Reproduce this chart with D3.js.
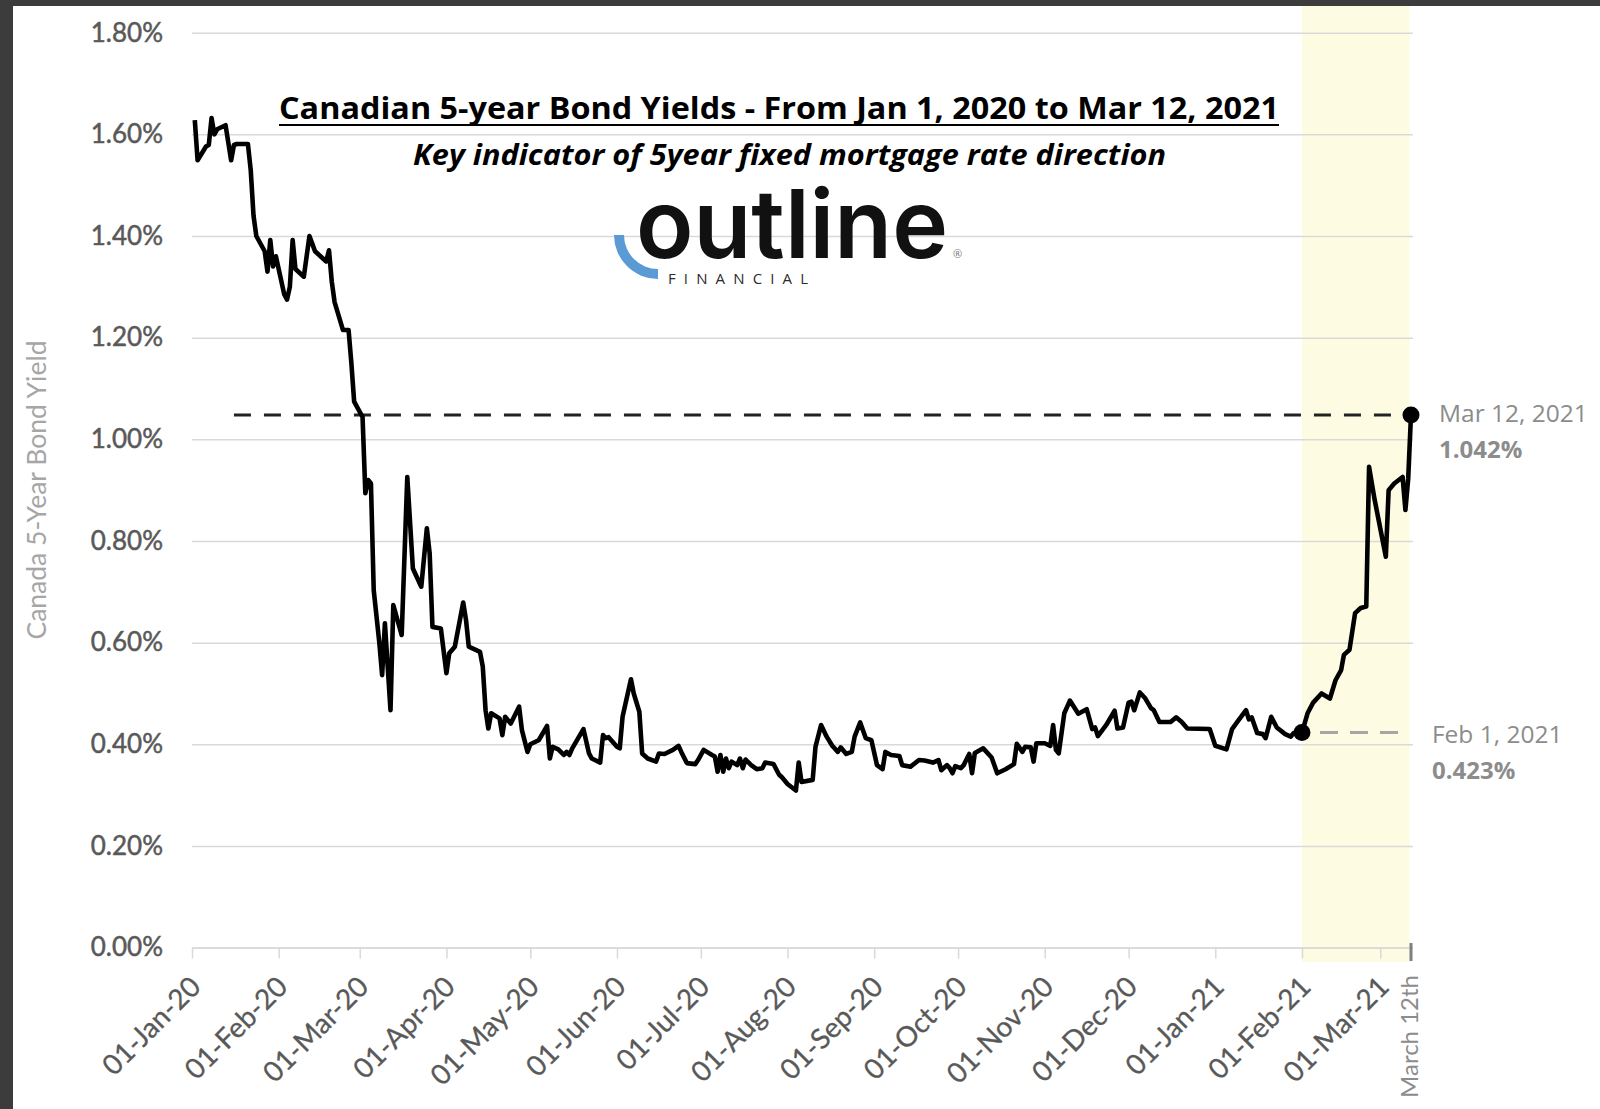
<!DOCTYPE html>
<html><head><meta charset="utf-8">
<script src="https://cdn.jsdelivr.net/npm/d3@7"></script>
<style>html,body{margin:0;padding:0;background:#fff;} svg{display:block}</style>
</head><body>
<svg id="chart" width="1600" height="1109"></svg>
<script>
// ---------------- DATA ----------------
const dates = [
"2020-01-02","2020-01-03","2020-01-06","2020-01-07","2020-01-08","2020-01-09","2020-01-10","2020-01-13","2020-01-15","2020-01-16","2020-01-17","2020-01-21","2020-01-22","2020-01-23","2020-01-24","2020-01-27","2020-01-28","2020-01-29","2020-01-30","2020-01-31",
"2020-02-03","2020-02-04","2020-02-05","2020-02-06","2020-02-07","2020-02-10","2020-02-12","2020-02-13","2020-02-14","2020-02-18","2020-02-19","2020-02-20","2020-02-21","2020-02-24","2020-02-26","2020-02-27","2020-02-28",
"2020-03-01","2020-03-02","2020-03-03","2020-03-04","2020-03-05","2020-03-06","2020-03-08","2020-03-09","2020-03-10","2020-03-12","2020-03-13","2020-03-16","2020-03-18","2020-03-20","2020-03-23","2020-03-25","2020-03-26","2020-03-27","2020-03-30",
"2020-04-01","2020-04-02","2020-04-04","2020-04-07","2020-04-08","2020-04-09","2020-04-13","2020-04-14","2020-04-15","2020-04-16","2020-04-17","2020-04-20","2020-04-21","2020-04-22","2020-04-24","2020-04-27","2020-04-28","2020-04-30",
"2020-05-01","2020-05-04","2020-05-07","2020-05-08","2020-05-09","2020-05-11","2020-05-13","2020-05-14","2020-05-15","2020-05-16","2020-05-20","2020-05-22","2020-05-23","2020-05-26","2020-05-27","2020-05-28","2020-05-29",
"2020-06-01","2020-06-02","2020-06-03","2020-06-06","2020-06-07","2020-06-09","2020-06-10","2020-06-12","2020-06-15","2020-06-16","2020-06-18","2020-06-21","2020-06-23","2020-06-24","2020-06-26","2020-06-29","2020-06-30",
"2020-07-02","2020-07-05","2020-07-06","2020-07-07","2020-07-08","2020-07-09","2020-07-10","2020-07-11","2020-07-12","2020-07-14","2020-07-15","2020-07-16","2020-07-17","2020-07-19","2020-07-21","2020-07-23","2020-07-24","2020-07-27","2020-07-29","2020-07-30",
"2020-08-01","2020-08-04","2020-08-05","2020-08-06","2020-08-10","2020-08-11","2020-08-13","2020-08-15","2020-08-17","2020-08-19","2020-08-20","2020-08-22","2020-08-24","2020-08-25","2020-08-27","2020-08-29","2020-08-31",
"2020-09-02","2020-09-04","2020-09-05","2020-09-07","2020-09-10","2020-09-11","2020-09-14","2020-09-17","2020-09-19","2020-09-22","2020-09-24","2020-09-25","2020-09-27","2020-09-28","2020-09-29","2020-09-30",
"2020-10-02","2020-10-03","2020-10-05","2020-10-06","2020-10-07","2020-10-10","2020-10-13","2020-10-15","2020-10-18","2020-10-21","2020-10-22","2020-10-24","2020-10-25","2020-10-27","2020-10-28","2020-10-29",
"2020-11-01","2020-11-03","2020-11-04","2020-11-05","2020-11-06","2020-11-08","2020-11-10","2020-11-13","2020-11-15","2020-11-16","2020-11-18","2020-11-19","2020-11-20","2020-11-23","2020-11-26","2020-11-27","2020-11-29",
"2020-12-01","2020-12-02","2020-12-03","2020-12-05","2020-12-07","2020-12-09","2020-12-10","2020-12-12","2020-12-16","2020-12-18","2020-12-20","2020-12-22","2020-12-30",
"2021-01-01","2021-01-05","2021-01-07","2021-01-09","2021-01-12","2021-01-13","2021-01-14","2021-01-16","2021-01-18","2021-01-19","2021-01-21","2021-01-23","2021-01-26","2021-01-28","2021-01-29",
"2021-02-01","2021-02-03","2021-02-05","2021-02-08","2021-02-11","2021-02-13","2021-02-15","2021-02-16","2021-02-18","2021-02-20","2021-02-22","2021-02-24","2021-02-25","2021-02-27",
"2021-03-03","2021-03-04","2021-03-06","2021-03-09","2021-03-10","2021-03-11","2021-03-12"
];
const yields = [
1.628,1.549,1.576,1.579,1.632,1.600,1.610,1.618,1.549,1.579,1.581,1.581,1.53,1.44,1.40,1.37,1.33,1.392,1.34,1.36,
1.285,1.275,1.30,1.392,1.335,1.32,1.40,1.385,1.37,1.35,1.372,1.31,1.27,1.215,1.215,1.15,1.074,
1.054,1.044,0.894,0.92,0.913,0.703,0.60,0.536,0.638,0.467,0.674,0.615,0.926,0.746,0.71,0.825,0.776,0.631,0.628,
0.54,0.579,0.592,0.679,0.645,0.592,0.582,0.553,0.467,0.431,0.461,0.451,0.418,0.454,0.441,0.474,0.428,0.385,
0.40,0.408,0.436,0.372,0.395,0.39,0.379,0.385,0.379,0.392,0.43,0.382,0.372,0.364,0.418,0.412,0.414,
0.395,0.392,0.454,0.528,0.50,0.464,0.382,0.372,0.366,0.382,0.381,0.389,0.397,0.385,0.363,0.361,0.369,
0.389,0.379,0.376,0.346,0.379,0.346,0.372,0.353,0.366,0.359,0.372,0.353,0.37,0.359,0.351,0.353,0.364,0.361,0.34,0.335,
0.322,0.309,0.364,0.326,0.33,0.395,0.438,0.415,0.397,0.385,0.394,0.381,0.385,0.415,0.443,0.412,0.408,
0.359,0.351,0.385,0.379,0.377,0.359,0.356,0.369,0.368,0.364,0.369,0.349,0.359,0.353,0.343,0.357,
0.353,0.359,0.381,0.343,0.383,0.392,0.374,0.343,0.351,0.361,0.401,0.385,0.395,0.394,0.366,0.402,
0.402,0.397,0.438,0.389,0.382,0.461,0.486,0.46,0.466,0.469,0.43,0.433,0.416,0.438,0.466,0.431,0.433,
0.482,0.484,0.467,0.502,0.49,0.471,0.467,0.444,0.444,0.453,0.444,0.431,0.43,
0.397,0.39,0.43,0.445,0.467,0.449,0.453,0.422,0.42,0.412,0.454,0.433,0.42,0.415,0.422,
0.423,0.461,0.482,0.50,0.49,0.526,0.546,0.576,0.586,0.658,0.668,0.671,0.946,0.881,
0.769,0.90,0.913,0.926,0.861,0.923,1.048
];
const yTicks = [0,0.2,0.4,0.6,0.8,1.0,1.2,1.4,1.6,1.8];
const monthTicks = ["2020-01-01","2020-02-01","2020-03-01","2020-04-01","2020-05-01","2020-06-01","2020-07-01","2020-08-01","2020-09-01","2020-10-01","2020-11-01","2020-12-01","2021-01-01","2021-02-01","2021-03-01"];
const monthLabels = ["01-Jan-20","01-Feb-20","01-Mar-20","01-Apr-20","01-May-20","01-Jun-20","01-Jul-20","01-Aug-20","01-Sep-20","01-Oct-20","01-Nov-20","01-Dec-20","01-Jan-21","01-Feb-21","01-Mar-21"];
const startDate = "2020-01-01", endDate = "2021-03-12";
const endTickLabel = "March 12th";
const highlightStart = "2021-02-01";
const refLineStart = "2020-01-16";
const annotations = [
  {date:"2021-03-12", name:"Mar 12, 2021", label:"1.042%"},
  {date:"2021-02-01", name:"Feb 1, 2021", label:"0.423%"}
];
const titleText = "Canadian 5-year Bond Yields - From Jan 1, 2020 to Mar 12, 2021";
const subtitleText = "Key indicator of 5year fixed mortgage rate direction";
const yAxisTitle = "Canada 5-Year Bond Yield";

// ---------------- CHART ----------------
const W = 1600, H = 1109;
const svg = d3.select("#chart");
const parse = d3.utcParse("%Y-%m-%d");
const series = dates.map((d,i)=>({date:parse(d), v:yields[i]}));
const x = d3.scaleUtc().domain([parse(startDate), parse(endDate)]).range([192, 1411]);
const y = d3.scaleLinear().domain([0, 1.8]).range([947.6, 32.7]);
const gridRight = 1413;

svg.append("rect").attr("width", W).attr("height", H).attr("fill", "#fff");
svg.append("rect").attr("width", W).attr("height", 6).attr("fill", "#3c3c3c");
svg.append("rect").attr("width", 13).attr("height", H).attr("fill", "#3c3c3c");

// highlight band
const hx0 = x(parse(highlightStart)), hx1 = x(parse(endDate)) - 1.5;
svg.append("rect").attr("x", hx0).attr("y", 6).attr("width", hx1 - hx0).attr("height", 956).attr("fill", "#fdfce3");

// gridlines
const grid = svg.append("g").attr("transform", "translate(192,0)")
  .call(d3.axisLeft(y).tickValues(yTicks).tickSize(-(gridRight - 192)).tickFormat(""));
grid.select(".domain").remove();
grid.selectAll("line").attr("stroke", "#d9d9d9").attr("stroke-width", 1.5);

// y labels
const yAx = svg.append("g").attr("transform", "translate(192,0)")
  .call(d3.axisLeft(y).tickValues(yTicks).tickSize(0).tickPadding(29).tickFormat(d => d.toFixed(2) + "%"));
yAx.select(".domain").remove();
yAx.selectAll("text").attr("font-family", "Lato, sans-serif").attr("font-size", 26).attr("fill", "#595959")
  .attr("stroke", "#595959").attr("stroke-width", 0.5);

// y title
svg.append("text").attr("transform", "translate(46,490) rotate(-90)").attr("text-anchor", "middle")
  .attr("font-family", "Lato, sans-serif").attr("font-size", 26.5).attr("fill", "#a6a6a6").text(yAxisTitle);

// x axis
const xAx = svg.append("g").attr("transform", "translate(0,947.6)")
  .call(d3.axisBottom(x).tickValues(monthTicks.map(parse)).tickSize(11).tickSizeOuter(0)
    .tickFormat((d,i) => monthLabels[i]));
xAx.select(".domain").attr("stroke", "#d9d9d9").attr("stroke-width", 1.5);
xAx.selectAll(".tick line").attr("stroke", "#d9d9d9").attr("stroke-width", 1.5);
xAx.selectAll(".tick text").attr("y", null).attr("dy", "0.35em")
  .attr("transform", "translate(3,34) rotate(-45)").style("text-anchor", "end")
  .attr("font-family", "Lato, sans-serif").attr("font-size", 28).attr("fill", "#595959")
  .attr("stroke", "#595959").attr("stroke-width", 0.3);

// end tick
const xe = x(parse(endDate));
svg.append("line").attr("x1", xe).attr("x2", xe).attr("y1", 943).attr("y2", 961).attr("stroke", "#7f7f7f").attr("stroke-width", 3);
svg.append("text").attr("transform", `translate(${xe + 7},975) rotate(-90)`).attr("text-anchor", "end")
  .attr("font-family", "Lato, sans-serif").attr("font-size", 24).attr("fill", "#8c8c8c").text(endTickLabel);

// logo
const logo = svg.append("g");
logo.append("path").attr("transform", "translate(658,235)")
  .attr("d", d3.arc()({innerRadius: 34, outerRadius: 44, startAngle: Math.PI, endAngle: 1.5 * Math.PI}))
  .attr("fill", "#5b9bd5");
logo.append("text").attr("transform", "translate(636,258) scale(1,1.08)").attr("font-family", "Inter, sans-serif").attr("font-weight", 600)
  .attr("font-size", 88).attr("textLength", 312).attr("lengthAdjust", "spacingAndGlyphs").attr("fill", "#111").text("outline");
logo.append("text").attr("x", 668).attr("y", 284).attr("font-family", "'Open Sans', sans-serif")
  .attr("font-size", 15).attr("textLength", 140).attr("fill", "#2b2b2b").text("FINANCIAL");
logo.append("text").attr("x", 953).attr("y", 258).attr("font-family", "'Open Sans', sans-serif")
  .attr("font-size", 11).attr("fill", "#777").text("®");

// title
svg.append("text").attr("x", 779).attr("y", 119).attr("text-anchor", "middle")
  .attr("font-family", "'Open Sans', sans-serif").attr("font-weight", 700).attr("font-size", 31)
  .attr("textLength", 1000).attr("lengthAdjust", "spacingAndGlyphs").attr("fill", "#000").text(titleText);
svg.append("line").attr("x1", 279).attr("x2", 1279).attr("y1", 125).attr("y2", 125).attr("stroke", "#000").attr("stroke-width", 2);
svg.append("text").attr("x", 789.5).attr("y", 165).attr("text-anchor", "middle")
  .attr("font-family", "'Open Sans', sans-serif").attr("font-weight", 700).attr("font-style", "italic").attr("font-size", 28)
  .attr("textLength", 753).attr("lengthAdjust", "spacingAndGlyphs").attr("fill", "#000").text(subtitleText);

// reference dashed lines
const last = series[series.length - 1];
svg.append("line").attr("x1", x(parse(refLineStart))).attr("x2", x(last.date)).attr("y1", y(last.v)).attr("y2", y(last.v))
  .attr("stroke", "#222").attr("stroke-width", 3).attr("stroke-dasharray", "17,13");
const feb = series.find(d => +d.date === +parse(annotations[1].date));
svg.append("line").attr("x1", x(feb.date) + 18).attr("x2", xe - 13).attr("y1", y(feb.v)).attr("y2", y(feb.v))
  .attr("stroke", "#a6a6a6").attr("stroke-width", 3).attr("stroke-dasharray", "18,12");

// line
svg.append("path").datum(series)
  .attr("d", d3.line().x(d => x(d.date)).y(d => y(d.v)))
  .attr("fill", "none").attr("stroke", "#000").attr("stroke-width", 4.6).attr("stroke-linejoin", "round");

// dots + labels
annotations.forEach((a, i) => {
  const p = series.find(d => +d.date === +parse(a.date));
  const cx = x(p.date), cy = y(p.v);
  svg.append("circle").attr("cx", cx).attr("cy", cy).attr("r", 8.5).attr("fill", "#000");
  const tx = i === 0 ? cx + 28 : cx + 130;
  const ty = i === 0 ? cy + 7 : cy + 10;
  svg.append("text").attr("x", tx).attr("y", ty).attr("font-family", "'Open Sans', sans-serif")
    .attr("font-size", 24.5).attr("fill", "#8c8c8c").text(a.name);
  svg.append("text").attr("x", tx).attr("y", ty + 36).attr("font-family", "'Open Sans', sans-serif")
    .attr("font-weight", 700).attr("font-size", 24).attr("fill", "#8c8c8c").text(a.label);
});
</script>
</body></html>
